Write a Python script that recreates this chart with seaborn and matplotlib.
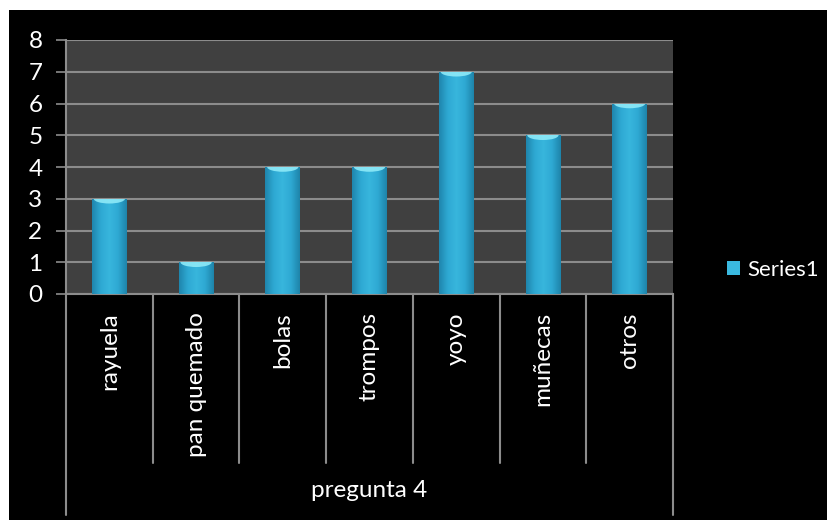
import matplotlib
matplotlib.use("Agg")
import matplotlib.pyplot as plt
import seaborn as sns
import pandas as pd
import numpy as np
from matplotlib.patches import Rectangle, Ellipse
from matplotlib.colors import LinearSegmentedColormap

categories = ["rayuela", "pan quemado", "bolas", "trompos", "yoyo", "muñecas", "otros"]
values = [3, 1, 4, 4, 7, 5, 6]
group_label = "pregunta 4"
series_name = "Series1"
yticks = list(range(0, 9))

df = pd.DataFrame({"cat": categories, "val": values})

sns.set_theme(style="dark")
plt.rcParams["font.family"] = ["Lato", "DejaVu Sans"]
FS = 17.5

W, H = 828, 520
fig = plt.figure(figsize=(W / 100, H / 100), dpi=100, facecolor="white")
# black chart area (white strip at top/left like the reference)
fig.patches.append(Rectangle((9 / W, 0), 1, 1 - 10 / H, transform=fig.transFigure,
                             facecolor="black", edgecolor="none", zorder=-5))

ax = fig.add_axes([66 / W, 1 - 294 / H, 607 / W, 254 / H])
ax.set_facecolor("#404040")

sns.barplot(data=df, x="cat", y="val", color="#2aaad2", width=0.4, saturation=1,
            edgecolor="none", linewidth=0, label=series_name, ax=ax, zorder=3)

# glossy look: horizontal gradient + light cap, clipped to each bar
cmap = LinearSegmentedColormap.from_list(
    "bar", ["#1f86ad", "#2ea9d3", "#38b6dd", "#2ea9d3", "#1e84aa"])
grad = np.linspace(0, 1, 64).reshape(1, -1)
for p in list(ax.patches):
    x0, w, h = p.get_x(), p.get_width(), p.get_height()
    im = ax.imshow(grad, cmap=cmap, extent=[x0, x0 + w, 0, h], aspect="auto",
                   zorder=3.2, interpolation="bicubic")
    im.set_clip_path(p)
    cap = Ellipse((x0 + w / 2, h), w * 0.9, 0.3, facecolor="#8eeaf8",
                  edgecolor="none", zorder=3.4, alpha=0.9)
    ax.add_patch(cap)
    cap.set_clip_path(p)

ax.set_ylim(0, 8)
ax.set_yticks(yticks)
ax.grid(axis="y", color="#8c8c8c", linewidth=1.5, zorder=1)
ax.grid(axis="x", visible=False)
ax.set_xlabel("")
ax.set_ylabel("")

for s in ["top", "right"]:
    ax.spines[s].set_visible(False)
for s in ["left", "bottom"]:
    ax.spines[s].set_color("#8c8c8c")
    ax.spines[s].set_linewidth(1.5)

ax.tick_params(axis="y", colors="#8c8c8c", labelcolor="white", length=7, width=1.2,
               direction="out", pad=10, labelsize=FS, left=True)
ax.tick_params(axis="x", length=0, pad=13, labelcolor="white", labelsize=FS)
for lbl in ax.get_xticklabels():
    lbl.set_rotation(90)
    lbl.set_va("top")
    lbl.set_ha("center")

# multi-level category axis dividers
n = len(categories)
tr = ax.get_xaxis_transform()
for i in range(n + 1):
    x = i - 0.5
    bottom = -0.87 if i in (0, n) else -0.665
    ax.plot([x, x], [0, bottom], transform=tr, color="#8c8c8c", linewidth=1.5,
            clip_on=False, zorder=5)
ax.set_xlim(-0.5, n - 0.5)
ax.set_ylim(0, 8)
ax.text((n - 1) / 2, -0.775, group_label, transform=tr, ha="center", va="center",
        color="white", fontsize=FS)

leg = ax.legend(loc="center left", bbox_to_anchor=(716 / W, 1 - 270 / H),
                bbox_transform=fig.transFigure, frameon=False, fontsize=16,
                handlelength=0.6, handleheight=0.6, handletextpad=0.3, borderpad=0)
for t in leg.get_texts():
    t.set_color("white")
for hnd in leg.legend_handles:
    hnd.set_facecolor("#3ab9e0")
    hnd.set_edgecolor("#1b7fa6")

fig.savefig("out.png", dpi=100, facecolor=fig.get_facecolor())
